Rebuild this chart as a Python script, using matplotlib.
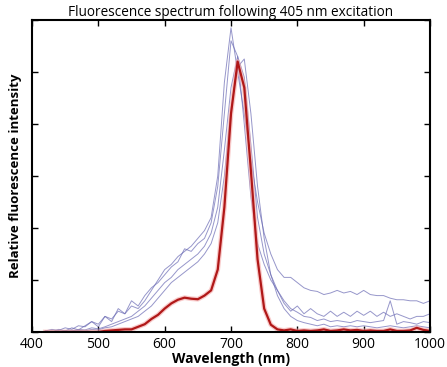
import matplotlib.pyplot as plt
import numpy as np

plt.rcParams['font.family'] = ['Open Sans', 'DejaVu Sans']

wavelength = np.arange(420, 1001, 10)

# red (thick) spectrum
red = [0, 0, 0, 0, 0, 0, 0, 0, 0,
       0.02, 0.03, 0.04, 0.05, 0.05, 0.10, 0.15, 0.25, 0.33, 0.45,
       0.55, 0.62, 0.66, 0.64, 0.63, 0.70, 0.80, 1.2, 2.4, 4.2,
       5.2, 4.7, 3.1, 1.4, 0.45, 0.14, 0.05, 0.03, 0.05, 0.02,
       0.03, 0.02, 0.03, 0.05, 0.02, 0.03, 0.05, 0.03, 0.04, 0.02,
       0.03, 0.02, 0.02, 0.05, 0.02, 0.02, 0.03, 0.08, 0.04, 0.02]

# thin blue spectra
blue_a = [0.02, 0.05, 0.03, 0.08, 0.05, 0.12, 0.10, 0.20, 0.15,
          0.30, 0.25, 0.40, 0.35, 0.50, 0.45, 0.60, 0.80, 1.0, 1.2,
          1.3, 1.45, 1.55, 1.65, 1.8, 1.95, 2.2, 3.0, 4.8, 5.85,
          5.0, 4.2, 3.3, 2.5, 1.9, 1.5, 1.2, 1.05, 1.05, 0.95,
          0.85, 0.80, 0.78, 0.72, 0.75, 0.80, 0.75, 0.78, 0.72, 0.80,
          0.72, 0.70, 0.70, 0.65, 0.62, 0.62, 0.60, 0.60, 0.55, 0.60]
blue_b = [0.02, 0.0, 0.05, 0.02, 0.08, 0.04, 0.12, 0.20, 0.10,
          0.30, 0.20, 0.45, 0.35, 0.60, 0.50, 0.70, 0.85, 0.95, 1.1,
          1.25, 1.35, 1.6, 1.55, 1.7, 1.8, 2.1, 2.8, 4.2, 5.6,
          5.3, 4.0, 2.6, 1.7, 1.3, 1.0, 0.80, 0.55, 0.40, 0.50,
          0.35, 0.45, 0.35, 0.30, 0.40, 0.30, 0.38, 0.30, 0.40, 0.32,
          0.40, 0.30, 0.38, 0.30, 0.35, 0.30, 0.25, 0.30, 0.30, 0.35]
blue_c = [0.0, 0.02, 0.0, 0.03, 0.02, 0.05, 0.04, 0.08, 0.06,
          0.10, 0.15, 0.20, 0.25, 0.30, 0.40, 0.50, 0.65, 0.80, 0.95,
          1.05, 1.2, 1.3, 1.4, 1.5, 1.65, 1.9, 2.4, 3.5, 4.7,
          5.3, 4.9, 3.6, 2.2, 1.5, 1.1, 0.80, 0.60, 0.45, 0.38,
          0.30, 0.28, 0.22, 0.25, 0.20, 0.22, 0.20, 0.18, 0.22, 0.20,
          0.18, 0.20, 0.22, 0.60, 0.15, 0.20, 0.18, 0.15, 0.20, 0.18]
blue_d = [0.0, 0.0, 0.02, 0.0, 0.02, 0.03, 0.02, 0.05, 0.04,
          0.08, 0.10, 0.15, 0.20, 0.25, 0.30, 0.40, 0.50, 0.65, 0.80,
          0.95, 1.05, 1.15, 1.25, 1.35, 1.5, 1.7, 2.1, 3.0, 4.3,
          5.1, 5.25, 4.2, 2.8, 1.8, 1.1, 0.70, 0.45, 0.30, 0.22,
          0.18, 0.15, 0.12, 0.15, 0.10, 0.12, 0.10, 0.12, 0.10, 0.12,
          0.10, 0.08, 0.10, 0.12, 0.10, 0.08, 0.10, 0.12, 0.10, 0.08]

fig = plt.figure(figsize=(4.47, 3.67), dpi=100)
ax = fig.add_axes([0.0716, 0.0954, 0.8904, 0.8501])

for s in [blue_a, blue_b, blue_c, blue_d]:
    ax.plot(wavelength, s, color='#6a6ab4', lw=0.7, alpha=0.7)

# faint halo then the red line itself
ax.plot(wavelength, red, color='#f4a8a8', lw=3.4, alpha=0.6)
ax.plot(wavelength, red, color='#b01818', lw=1.6)

ax.set_xlim(400, 1000)
ax.set_ylim(0, 6)
ax.set_xticks(np.arange(400, 1001, 100))
ax.set_yticks(np.arange(0, 7, 1))
ax.set_yticklabels([])
ax.tick_params(direction='in', top=True, right=True, length=4, width=1,
               labelsize=10)
for sp in ax.spines.values():
    sp.set_linewidth(1.5)

ax.set_title('Fluorescence spectrum following 405 nm excitation',
             fontsize=9.8, pad=3)
ax.set_xlabel('Wavelength (nm)', fontsize=10, fontweight='bold', labelpad=0)
ax.set_ylabel('Relative fluorescence intensity', fontsize=9.5,
              fontweight='bold', labelpad=4)

fig.savefig('out.png', dpi=100)
